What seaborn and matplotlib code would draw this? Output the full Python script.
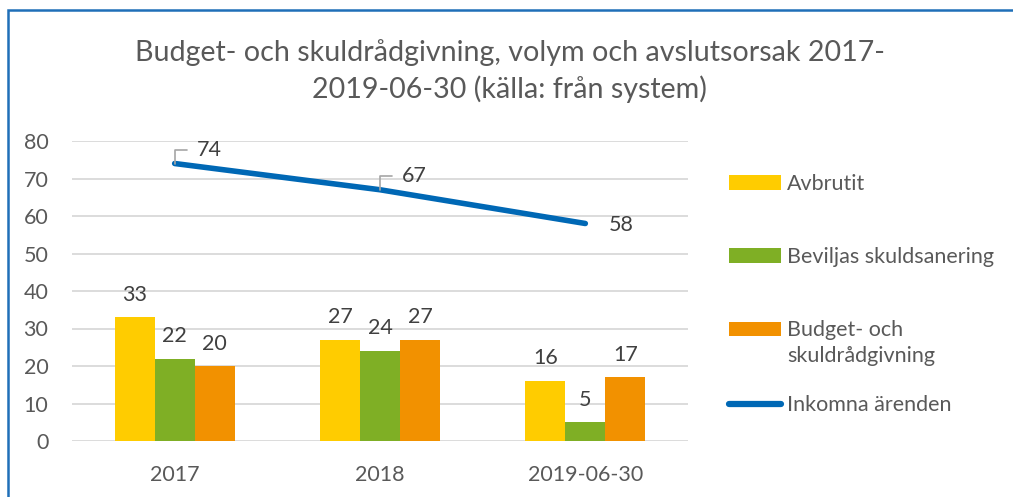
import matplotlib
matplotlib.use("Agg")
import matplotlib.pyplot as plt
from matplotlib.patches import Rectangle, Patch
from matplotlib.lines import Line2D
import seaborn as sns
import pandas as pd

categories = ["2017", "2018", "2019-06-30"]
avbrutit = [33, 27, 16]
beviljas = [22, 24, 5]
budget = [20, 27, 17]
inkomna = [74, 67, 58]
series_names = ["Avbrutit", "Beviljas skuldsanering", "Budget- och\nskuldrådgivning"]
line_name = "Inkomna ärenden"
yticks = [0, 10, 20, 30, 40, 50, 60, 70, 80]
title = "Budget- och skuldrådgivning, volym och avslutsorsak 2017-\n2019-06-30 (källa: från system)"

colors = ["#FFCC00", "#7FAF25", "#F29100"]
line_color = "#0068B5"
text_color = "#595959"
label_color = "#404040"
fs = 15.5

sns.set_theme(style="white")
plt.rcParams["font.family"] = ["Lato", "DejaVu Sans"]

df = pd.DataFrame({
    "cat": categories * 3,
    "val": avbrutit + beviljas + budget,
    "series": [series_names[0]] * 3 + [series_names[1]] * 3 + [series_names[2]] * 3,
})
dline = pd.DataFrame({"cat": categories, "val": inkomna})

fig = plt.figure(figsize=(10.13, 4.97), dpi=100)
ax = fig.add_axes([72 / 1013, 1 - 441 / 497, 616 / 1013, 300 / 497])

sns.barplot(data=df, x="cat", y="val", hue="series", palette=colors, width=0.585,
            gap=0, saturation=1, ax=ax, legend=False, order=categories,
            hue_order=series_names, linewidth=0, edgecolor="none")
sns.pointplot(data=dline, x="cat", y="val", color=line_color, markers="",
              linewidth=4, ax=ax, order=categories, errorbar=None)
for l in ax.lines:
    l.set_solid_capstyle("round")

for cont in ax.containers:
    ax.bar_label(cont, padding=9, fontsize=fs, color=label_color)

for i, v in enumerate(inkomna):
    if i < 2:
        ax.annotate(str(v), xy=(i, v), xytext=(16, 10), textcoords="offset points",
                    fontsize=fs, color=label_color, va="center", ha="left",
                    arrowprops=dict(arrowstyle="-", color="#A6A6A6", lw=1.2,
                                    connectionstyle="angle,angleA=0,angleB=90,rad=0",
                                    relpos=(0, 0.5), shrinkA=5, shrinkB=0))
    else:
        ax.annotate(str(v), xy=(i, v), xytext=(17, -1), textcoords="offset points",
                    fontsize=fs, color=label_color, va="center", ha="left")

ax.set_ylim(0, 80)
ax.set_xlim(-0.5, 2.5)
ax.set_yticks(yticks)
ax.yaxis.grid(True, color="#D9D9D9", lw=1.3)
ax.set_axisbelow(True)
for s in ax.spines.values():
    s.set_visible(False)
ax.set_xlabel("")
ax.set_ylabel("")
ax.tick_params(axis="both", length=0, labelsize=fs, labelcolor=text_color)
ax.tick_params(axis="y", pad=17)
ax.tick_params(axis="x", pad=17)

fig.text(0.503, 1 - 71 / 497, title, ha="center", va="center", fontsize=20.6,
         color=text_color, linespacing=1.42)

leg_kw = dict(loc="upper left", frameon=False, fontsize=fs, labelcolor=text_color,
              handlelength=2.4, handleheight=0.65, handletextpad=0.3,
              borderpad=0, borderaxespad=0)
bar_handles = [Patch(facecolor=c, edgecolor="none") for c in colors]
leg1 = fig.legend(bar_handles, series_names, bbox_to_anchor=(729 / 1013, 1 - 174 / 497),
                  labelspacing=2.46, **leg_kw)
leg1.get_texts()[2].set_linespacing(1.35)
h3 = leg1.legend_handles[2]
h3.set_y(h3.get_y() + 10)

line_handle = Line2D([0], [0], color=line_color, lw=4.5, solid_capstyle="round")
leg2 = fig.legend([line_handle], [line_name], bbox_to_anchor=(729 / 1013, 1 - 395 / 497),
                  **leg_kw)

fig.patches.append(Rectangle((7.5 / 1013, -0.1), 1.2, (497 - 9.5) / 497 + 0.1,
                             transform=fig.transFigure, fill=False,
                             edgecolor="#1F6FB8", lw=1.8))

fig.savefig("out.png", dpi=100)
